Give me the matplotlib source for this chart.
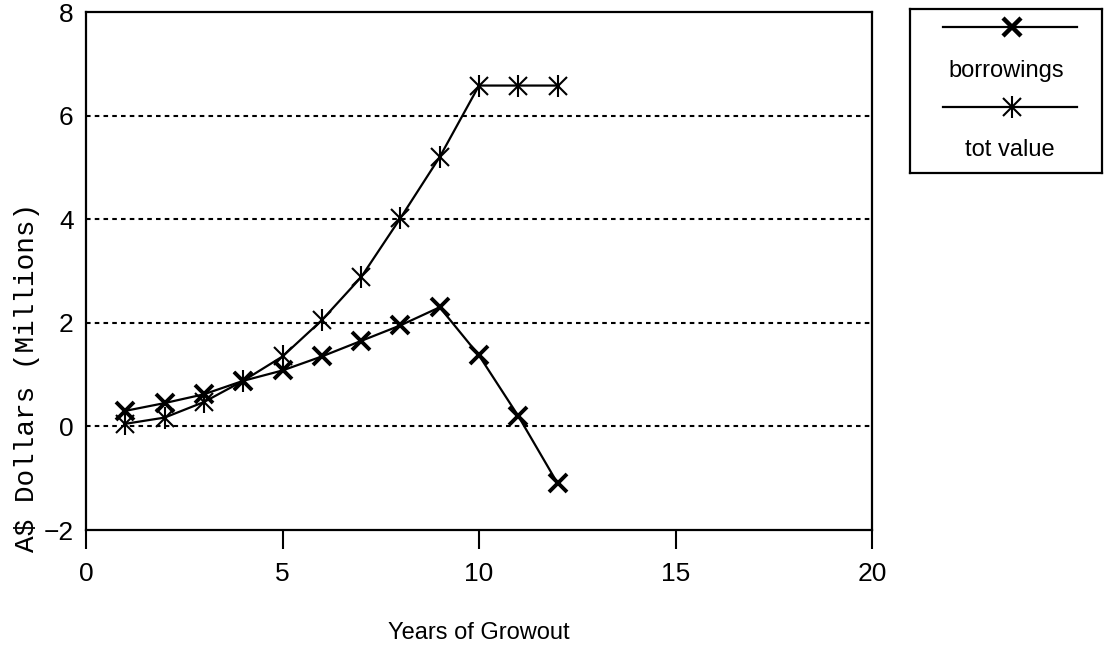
import matplotlib
matplotlib.use("Agg")
import matplotlib.pyplot as plt
from matplotlib.lines import Line2D

years = [1, 2, 3, 4, 5, 6, 7, 8, 9, 10, 11, 12]
borrowings = [0.3, 0.45, 0.62, 0.88, 1.08, 1.35, 1.65, 1.95, 2.3, 1.37, 0.2, -1.1]
tot_value = [0.05, 0.17, 0.47, 0.88, 1.35, 2.05, 2.88, 4.02, 5.2, 6.58, 6.58, 6.58]
series_names = ["borrowings", "tot value"]
x_ticks = [0, 5, 10, 15, 20]
y_ticks = [-2, 0, 2, 4, 6, 8]
grid_levels = [0, 2, 4, 6]

sans = ["Liberation Sans Narrow", "Liberation Sans", "DejaVu Sans"]
mono = ["Liberation Mono", "DejaVu Sans Mono"]

fig = plt.figure(figsize=(11.05, 6.47), dpi=100)
ax = fig.add_axes([86 / 1105, 1 - 530 / 647, 786 / 1105, 518 / 647])

for g in grid_levels:
    ax.axhline(g, color="black", lw=1.5, ls=(0, (2.2, 2.0)), zorder=1)

# tot value: asterisk built from an 'x' plus a vertical bar
ax.plot(years, tot_value, color="black", lw=1.6, marker="x", ms=13, mew=1.5, zorder=3)
ax.plot(years, tot_value, color="black", lw=0, marker="|", ms=16, mew=1.5, zorder=3)
ax.plot(years, borrowings, color="black", lw=1.6, marker="x", ms=13, mew=2.8, zorder=3)

ax.set_xlim(0, 20)
ax.set_ylim(-2, 8)
ax.set_xticks(x_ticks)
ax.set_yticks(y_ticks)
ax.set_xticklabels([str(t) for t in x_ticks], fontfamily=sans, fontsize=19)
ax.set_yticklabels([("\u2212" + str(-t)) if t < 0 else str(t) for t in y_ticks], fontfamily=sans, fontsize=19)
ax.tick_params(axis="x", direction="out", length=14, width=1.5, pad=9)
ax.tick_params(axis="y", length=0, pad=9)
for s in ax.spines.values():
    s.set_linewidth(1.6)

ax.set_xlabel("Years of Growout", fontfamily=sans, fontsize=17, labelpad=26)
ax.set_ylabel("A$ Dollars (Millions)", fontfamily=mono, fontsize=20)
ax.yaxis.set_label_coords(-0.058, 0.295)

# legend box
lax = fig.add_axes([910 / 1105, 1 - 173 / 647, 192 / 1105, 164 / 647])
lax.set_xlim(0, 1)
lax.set_ylim(0, 1)
lax.set_xticks([])
lax.set_yticks([])
for s in lax.spines.values():
    s.set_linewidth(1.6)
lax.add_line(Line2D([0.17, 0.87], [0.89, 0.89], color="black", lw=1.6))
lax.add_line(Line2D([0.53], [0.89], color="black", marker="x", ms=13, mew=3.2))
lax.text(0.5, 0.625, series_names[0], ha="center", va="center", fontfamily=sans, fontsize=17)
lax.add_line(Line2D([0.17, 0.87], [0.40, 0.40], color="black", lw=1.6))
lax.add_line(Line2D([0.53], [0.40], color="black", marker="x", ms=13, mew=1.5))
lax.add_line(Line2D([0.53], [0.40], color="black", marker="|", ms=16, mew=1.5))
lax.text(0.52, 0.14, series_names[1], ha="center", va="center", fontfamily=sans, fontsize=17)

fig.savefig("out.png", dpi=100)
